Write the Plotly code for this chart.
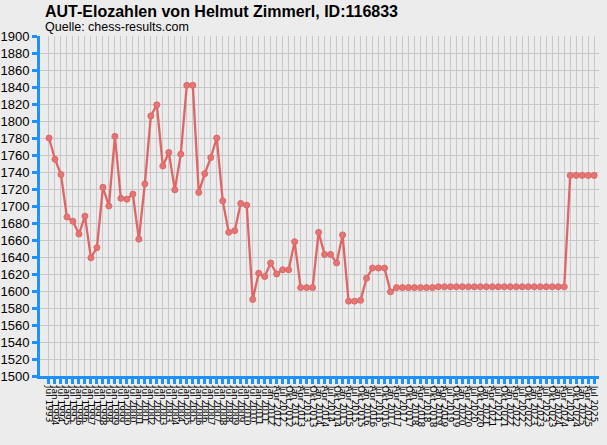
import plotly.graph_objects as go

# Dates: half-yearly Jul 1993 .. Jan 2012, then quarterly Apr 2012 .. Jul 2025
half_years = []
for y in range(1993, 2012):
    if y > 1993:
        half_years.append(f"Jan {y}")
    half_years.append(f"Jul {y}")
half_years.append("Jan 2012")
quarters = []
for y in range(2012, 2026):
    for m in ["Jan", "Apr", "Jul", "Okt"]:
        if y == 2012 and m == "Jan":
            continue
        if y == 2025 and m == "Okt":
            break
        quarters.append(f"{m} {y}")
labels = half_years + quarters

elo = [1780, 1755, 1737, 1687, 1682, 1667, 1688, 1639, 1651, 1722,
       1700, 1782, 1709, 1708, 1714, 1661, 1726, 1806, 1819, 1747,
       1763, 1719, 1761, 1842, 1842, 1716, 1738, 1757, 1780, 1706,
       1669, 1671, 1703, 1701, 1590, 1621, 1617, 1633, 1620, 1625,
       1625, 1658, 1604, 1604, 1604, 1669, 1643, 1643, 1633, 1666,
       1588, 1588, 1589, 1615, 1627, 1627, 1627, 1599,
       1604, 1604, 1604, 1604, 1604, 1604, 1604,
       1605, 1605, 1605, 1605, 1605, 1605, 1605, 1605, 1605, 1605, 1605,
       1605, 1605, 1605, 1605, 1605, 1605, 1605, 1605, 1605, 1605, 1605,
       1736, 1736, 1736, 1736, 1736]

y_ticks = list(range(1500, 1901, 20))

n = len(elo)
labels = labels[:n]

BG = "#ececec"
BLUE = "#1e90ff"
GRID = "#c8c8c8"
RED = "#e06666"

fig = go.Figure()
fig.add_trace(go.Scatter(
    x=list(range(n)), y=elo, mode="lines+markers",
    line=dict(color=RED, width=2.3),
    marker=dict(color="#e37575", size=6, line=dict(color=RED, width=1)),
    hoverinfo="skip", showlegend=False,
))

fig.update_layout(
    width=607, height=445,
    margin=dict(l=40, r=8, t=36, b=69),
    paper_bgcolor=BG, plot_bgcolor=BG,
    font=dict(family="Liberation Sans, Arial", color="#000000"),
    annotations=[
        dict(text="<b>AUT-Elozahlen von Helmut Zimmerl, ID:116833</b>",
             xref="paper", yref="paper", x=3 / 559, y=1 + 25 / 340,
             xanchor="left", yanchor="middle", showarrow=False,
             font=dict(size=16, family="Liberation Sans, Arial", color="#000")),
        dict(text="Quelle: chess-results.com",
             xref="paper", yref="paper", x=3 / 559, y=1 + 9 / 340,
             xanchor="left", yanchor="middle", showarrow=False,
             font=dict(size=12.5, family="Liberation Sans, Arial", color="#000")),
    ],
)

fig.update_xaxes(
    range=[-1.5, n - 0.2], automargin=False,
    tickmode="array", tickvals=list(range(n)), ticktext=labels,
    tickangle=90, tickfont=dict(size=9, family="DejaVu Sans", color="#000"),
    ticks="outside", ticklen=5, tickwidth=3, tickcolor=BLUE,
    showline=True, linecolor=BLUE, linewidth=3,
    showgrid=True, gridcolor=GRID, gridwidth=1,
    zeroline=False, fixedrange=True,
)
fig.update_yaxes(
    range=[1500, 1900], automargin=False,
    tickmode="array", tickvals=y_ticks, ticktext=[str(v) for v in y_ticks],
    tickfont=dict(size=13, family="Liberation Sans, Arial", color="#000"),
    ticks="outside", ticklen=5, tickwidth=3, tickcolor=BLUE,
    showline=True, linecolor=BLUE, linewidth=3,
    showgrid=True, gridcolor=GRID, gridwidth=1,
    zeroline=False, fixedrange=True,
)

fig.write_html(
    "out.html",
    config={"displayModeBar": False},
    post_script="document.body.style.margin='0';document.body.style.overflow='hidden';"
                "document.body.style.background='#ececec';",
)
